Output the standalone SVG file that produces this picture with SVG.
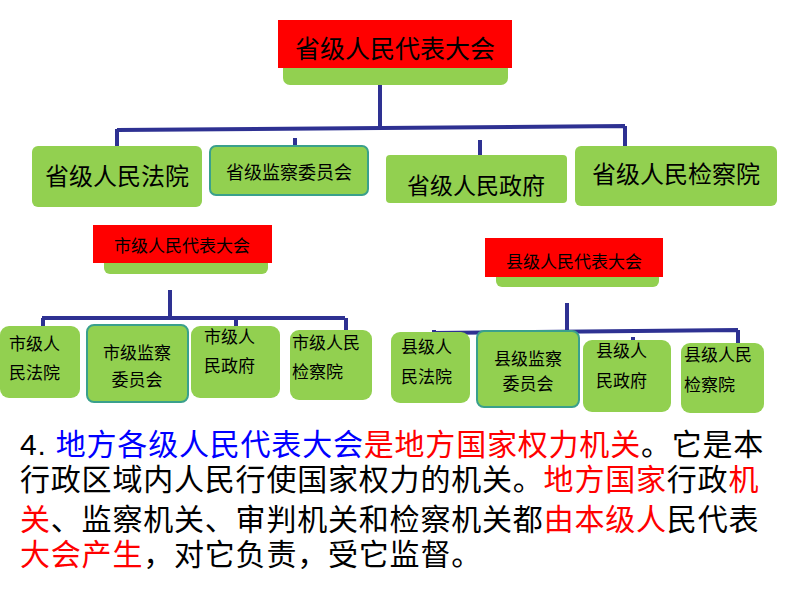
<svg xmlns="http://www.w3.org/2000/svg" width="794" height="596" viewBox="0 0 794 596">
<style>
text{font-family:"Liberation Sans","Noto Sans CJK SC",sans-serif;fill:#000}
.g{fill:#92d050}
.gs{fill:#92d050;stroke:#3aa08c;stroke-width:2}
.r{fill:#ff0000}
.c{stroke:#2e3192;stroke-width:4;fill:none}
.s{font-size:17px}
.b{font-size:30px;letter-spacing:0.8px}
.bl{fill:#0000ff}.rd{fill:#ff0000}
</style>
<rect width="794" height="596" fill="#fff"/>
<g id="connectors">
<path class="c" d="M380 85V128M117 130L625 126M117 129V146M295 138V146M480 140V155M625 126V146"/>
<path class="c" d="M170 290V318M42 318H345M43 318V336M236 318V343M346 318V350"/>
<path class="c" d="M567 303V331M433 333L738 330M434 330V338M633 337V356M738 330V365"/>
</g>
<g id="prov">
<rect class="g" x="283" y="55" width="225" height="30" rx="7"/>
<rect class="r" x="278" y="20" width="234" height="48"/>
<text x="395" y="58" font-size="25" text-anchor="middle">省级人民代表大会</text>
</g>
<g id="prov-court"><rect class="g" x="32" y="146" width="170" height="61" rx="6"/><text x="117" y="185" font-size="24" text-anchor="middle">省级人民法院</text></g>
<g id="prov-sup"><rect class="gs" x="210" y="146" width="158" height="49" rx="6"/><text x="289" y="179" font-size="18" text-anchor="middle">省级监察委员会</text></g>
<g id="prov-gov"><rect class="g" x="386" y="155" width="181" height="48" rx="4"/><text x="476" y="194" font-size="23" text-anchor="middle">省级人民政府</text></g>
<g id="prov-proc"><rect class="g" x="575" y="146" width="202" height="60" rx="6"/><text x="676" y="183" font-size="24" text-anchor="middle">省级人民检察院</text></g>

<g id="city">
<rect class="g" x="104" y="255" width="164" height="19" rx="6"/>
<rect class="r" x="93" y="225" width="179" height="38"/>
<text x="182" y="252" font-size="17" text-anchor="middle">市级人民代表大会</text>
</g>
<g id="city-court"><rect class="g" x="0" y="326" width="80" height="72" rx="9"/><text class="s" x="9" y="350">市级人</text><text class="s" x="9" y="379">民法院</text></g>
<g id="city-sup"><rect class="gs" x="87" y="325" width="101" height="77" rx="7"/><text class="s" x="137" y="359" text-anchor="middle">市级监察</text><text class="s" x="137" y="386" text-anchor="middle">委员会</text></g>
<g id="city-gov"><rect class="g" x="191" y="326" width="89" height="72" rx="9"/><text class="s" x="204" y="343">市级人</text><text class="s" x="204" y="372">民政府</text></g>
<g id="city-proc"><rect class="g" x="290" y="330" width="82" height="70" rx="9"/><text class="s" x="292" y="349">市级人民</text><text class="s" x="292" y="378">检察院</text></g>

<g id="county">
<rect class="g" x="496" y="270" width="163" height="17" rx="6"/>
<rect class="r" x="485" y="238" width="178" height="39"/>
<text x="574" y="268" font-size="17" text-anchor="middle">县级人民代表大会</text>
</g>
<g id="county-court"><rect class="g" x="391" y="332" width="79" height="71" rx="9"/><text class="s" x="401" y="353">县级人</text><text class="s" x="401" y="383">民法院</text></g>
<g id="county-sup"><rect class="gs" x="477" y="331" width="102" height="76" rx="7"/><text class="s" x="528" y="365" text-anchor="middle">县级监察</text><text class="s" x="528" y="390" text-anchor="middle">委员会</text></g>
<g id="county-gov"><rect class="g" x="583" y="340" width="88" height="72" rx="9"/><text class="s" x="596" y="357">县级人</text><text class="s" x="596" y="387">民政府</text></g>
<g id="county-proc"><rect class="g" x="681" y="343" width="83" height="70" rx="9"/><text class="s" x="684" y="361">县级人民</text><text class="s" x="684" y="391">检察院</text></g>

<g id="para">
<text class="b" x="20" y="455">4. <tspan class="bl">地方各级人民代表大会</tspan><tspan class="rd">是地方国家权力机关</tspan>。它是本</text>
<text class="b" x="20" y="490">行政区域内人民行使国家权力的机关。<tspan class="rd">地方国家</tspan>行政<tspan class="rd">机</tspan></text>
<text class="b" x="20" y="530"><tspan class="rd">关</tspan>、监察机关、审判机关和检察机关都<tspan class="rd">由本级人</tspan>民代表</text>
<text class="b" x="20" y="565"><tspan class="rd">大会产生</tspan>，对它负责，受它监督。</text>
</g>
</svg>
